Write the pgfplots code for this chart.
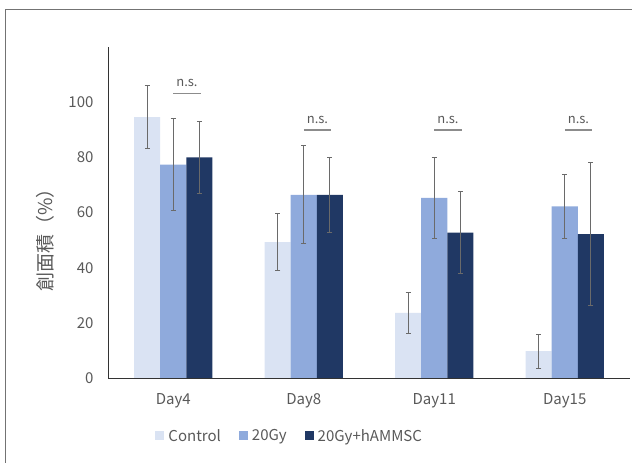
\documentclass[border=0pt]{standalone}
\usepackage{fontspec}
\setmainfont{Noto Sans CJK JP}
\usepackage{pgfplots}
\pgfplotsset{compat=1.18}
\definecolor{cCtrl}{HTML}{DAE3F3}
\definecolor{cGy}{HTML}{8FAADC}
\definecolor{cHam}{HTML}{203864}
\definecolor{txt}{HTML}{595959}
\definecolor{errc}{HTML}{6A6A6A}
\definecolor{nsline}{HTML}{8C8C8C}
\pgfplotsset{
  mybar/.style={ybar, bar width=0.2, bar shift=0, draw=none,
    error bars/.cd, y dir=both, y explicit,
    error bar style={line width=1pt, color=errc},
    error mark options={rotate=90, mark size=2.6pt, line width=1pt, color=errc},
    /pgfplots/.cd,
    legend image code/.code={\fill[##1] (0pt,-4.5pt) rectangle (9pt,4.5pt);}},
}
\begin{document}
\begin{tikzpicture}[x=1pt,y=1pt]
\path[use as bounding box] (0,0) rectangle (632,463);
\draw[color=black!55, line width=1pt] (5.5,0) -- (5.5,453.5) -- (632,453.5);
\begin{axis}[
  at={(108pt,85pt)}, anchor=south west,
  scale only axis, width=522pt, height=331pt,
  xmin=-0.5, xmax=3.5, ymin=0, ymax=120,
  axis x line*=bottom, axis y line*=left,
  axis line style={-, black!80, line width=0.9pt},
  major tick length=0pt,
  ytick={0,20,40,60,80,100},
  xtick={0,1,2,3},
  xticklabels={Day4,Day8,Day11,Day15},
  /pgf/number format/assume math mode=true,
  tick label style={font=\fontsize{15}{18}\selectfont, text=txt},
  yticklabel style={xshift=-11pt},
  xticklabel style={yshift=-12pt},
  ylabel={創面積（\%）},
  ylabel style={font=\fontsize{19}{22}\selectfont, text=txt, at={(axis description cs:-0.12,0.43)}, anchor=center},
  legend style={at={(0.35,-0.175)}, anchor=center, draw=none, fill=none,
    font=\fontsize{15}{18}\selectfont, text=txt,
    nodes={inner xsep=4pt},
    /tikz/every even column/.append style={column sep=14pt}},
  legend columns=3,
  legend cell align=left,
]
\addplot[mybar, fill=cCtrl] coordinates {
  (-0.2,94.6) +- (0,11.3)
  (0.8,49.3) +- (0,10.3)
  (1.8,23.6) +- (0,7.5)
  (2.8,9.7)  +- (0,6.1)
};
\addlegendentry{Control}
\addplot[mybar, fill=cGy] coordinates {
  (0,77.4) +- (0,16.7)
  (1,66.4) +- (0,17.8)
  (2,65.3) +- (0,14.8)
  (3,62.2) +- (0,11.7)
};
\addlegendentry{20Gy}
\addplot[mybar, fill=cHam] coordinates {
  (0.2,80.0) +- (0,13.1)
  (1.2,66.4) +- (0,13.6)
  (2.2,52.7) +- (0,14.8)
  (3.2,52.2) +- (0,25.8)
};
\addlegendentry{20Gy+hAMMSC}
% n.s. brackets
\addplot[forget plot, sharp plot, no markers, line width=1.2pt, color=nsline] coordinates {(0,103) (0.21,103)};
\addplot[forget plot, sharp plot, no markers, line width=1.2pt, color=nsline] coordinates {(1,89.9) (1.21,89.9)};
\addplot[forget plot, sharp plot, no markers, line width=1.2pt, color=nsline] coordinates {(2,89.9) (2.21,89.9)};
\addplot[forget plot, sharp plot, no markers, line width=1.2pt, color=nsline] coordinates {(3,89.9) (3.21,89.9)};
\node[font=\fontsize{13}{15}\selectfont, text=txt] at (axis cs:0.105,107) {n.s.};
\node[font=\fontsize{13}{15}\selectfont, text=txt] at (axis cs:1.105,93.6) {n.s.};
\node[font=\fontsize{13}{15}\selectfont, text=txt] at (axis cs:2.105,93.6) {n.s.};
\node[font=\fontsize{13}{15}\selectfont, text=txt] at (axis cs:3.105,93.6) {n.s.};
\end{axis}
\end{tikzpicture}
\end{document}
